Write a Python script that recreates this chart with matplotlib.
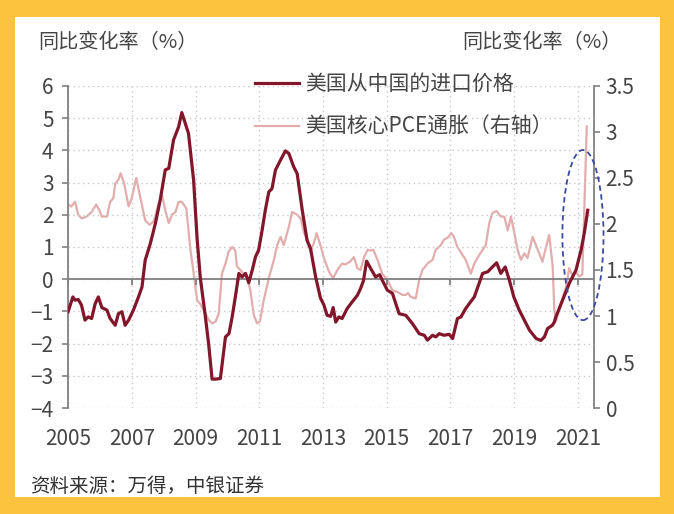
"""US import prices from China vs US core PCE inflation, yoy %."""
import matplotlib.pyplot as plt
from matplotlib.patches import Rectangle, Ellipse
from matplotlib.ticker import FuncFormatter

plt.rcParams['font.family'] = ['Noto Sans CJK SC', 'DejaVu Sans']
plt.rcParams['font.weight'] = 'light'

# 美国从中国的进口价格 (left axis), readings in decimal years
IMP_T = [2005.00, 2005.15, 2005.22, 2005.32, 2005.42, 2005.53, 2005.63, 2005.74, 2005.85, 2005.95,
         2006.06, 2006.22, 2006.32, 2006.48, 2006.58, 2006.69, 2006.79, 2006.90, 2007.05, 2007.21,
         2007.32, 2007.42, 2007.58, 2007.74, 2007.89, 2008.05, 2008.16, 2008.31, 2008.47, 2008.57,
         2008.78, 2008.94, 2009.05, 2009.15, 2009.31, 2009.41, 2009.52, 2009.63, 2009.78, 2009.94,
         2010.05, 2010.15, 2010.25, 2010.36, 2010.46, 2010.57, 2010.67, 2010.78, 2010.88, 2010.98,
         2011.09, 2011.19, 2011.30, 2011.40, 2011.51, 2011.67, 2011.82, 2011.93, 2012.08, 2012.19,
         2012.35, 2012.50, 2012.61, 2012.77, 2012.92, 2013.03, 2013.13, 2013.24, 2013.32, 2013.40,
         2013.50, 2013.60, 2013.76, 2013.92, 2014.08, 2014.18, 2014.27, 2014.37, 2014.50, 2014.65,
         2014.78, 2014.86, 2015.02, 2015.18, 2015.39, 2015.60, 2015.81, 2016.02, 2016.18, 2016.28,
         2016.44, 2016.54, 2016.65, 2016.80, 2016.96, 2017.07, 2017.22, 2017.33, 2017.48, 2017.59,
         2017.75, 2017.90, 2018.01, 2018.17, 2018.32, 2018.45, 2018.58, 2018.72, 2018.85, 2018.99,
         2019.16, 2019.32, 2019.48, 2019.69, 2019.84, 2019.95, 2020.05, 2020.20, 2020.26, 2020.31,
         2020.52, 2020.73, 2020.94, 2021.10, 2021.20, 2021.31]
IMP_V = [-1.01, -0.55, -0.65, -0.63, -0.80, -1.27, -1.17, -1.22, -0.76, -0.55,
         -0.88, -0.96, -1.22, -1.43, -1.07, -1.01, -1.43, -1.27, -0.96, -0.55,
         -0.24, 0.59, 1.10, 1.73, 2.45, 3.39, 3.44, 4.32, 4.73, 5.17,
         4.52, 3.07, 1.25, 0.05, -1.17, -2.00, -3.10, -3.10, -3.08, -1.79,
         -1.69, -1.17, -0.55, 0.18, 0.07, 0.18, -0.11, 0.28, 0.69, 0.90,
         1.52, 2.14, 2.71, 2.81, 3.39, 3.70, 3.98, 3.90, 3.49, 3.28,
         2.14, 1.21, 0.95, 0.07, -0.58, -0.80, -1.12, -1.15, -0.88, -1.33,
         -1.17, -1.22, -0.91, -0.70, -0.50, -0.29, -0.05, 0.56, 0.33, 0.07,
         0.14, -0.03, -0.34, -0.44, -1.07, -1.12, -1.38, -1.69, -1.74, -1.89,
         -1.74, -1.79, -1.69, -1.74, -1.71, -1.84, -1.22, -1.17, -0.91, -0.76,
         -0.55, -0.13, 0.18, 0.23, 0.38, 0.51, 0.18, 0.38, -0.03, -0.55,
         -0.96, -1.27, -1.58, -1.84, -1.90, -1.79, -1.53, -1.43, -1.33, -1.17,
         -0.65, -0.13, 0.28, 0.90, 1.42, 2.14]

# 美国核心PCE通胀 (right axis)
PCE_T = [2005.00, 2005.10, 2005.22, 2005.32, 2005.43, 2005.58, 2005.74, 2005.88, 2005.98, 2006.06,
         2006.22, 2006.32, 2006.42, 2006.48, 2006.58, 2006.65, 2006.76, 2006.90, 2007.00, 2007.14,
         2007.26, 2007.42, 2007.56, 2007.69, 2007.84, 2007.95, 2008.05, 2008.16, 2008.26, 2008.37,
         2008.47, 2008.57, 2008.71, 2008.84, 2008.94, 2009.05, 2009.15, 2009.31, 2009.41, 2009.52,
         2009.63, 2009.73, 2009.83, 2009.94, 2010.04, 2010.15, 2010.25, 2010.30, 2010.46, 2010.62,
         2010.72, 2010.83, 2010.93, 2011.02, 2011.14, 2011.30, 2011.46, 2011.56, 2011.67, 2011.77,
         2011.93, 2012.03, 2012.19, 2012.30, 2012.40, 2012.50, 2012.61, 2012.71, 2012.80, 2012.92,
         2013.03, 2013.19, 2013.32, 2013.45, 2013.60, 2013.70, 2013.85, 2013.97, 2014.08, 2014.18,
         2014.29, 2014.40, 2014.50, 2014.58, 2014.71, 2014.86, 2015.02, 2015.18, 2015.34, 2015.49,
         2015.60, 2015.67, 2015.75, 2015.91, 2016.02, 2016.12, 2016.28, 2016.44, 2016.54, 2016.70,
         2016.80, 2016.91, 2017.03, 2017.11, 2017.22, 2017.33, 2017.48, 2017.64, 2017.75, 2017.90,
         2018.11, 2018.22, 2018.32, 2018.45, 2018.58, 2018.69, 2018.80, 2018.90, 2018.99, 2019.11,
         2019.21, 2019.32, 2019.42, 2019.58, 2019.74, 2019.89, 2020.00, 2020.10, 2020.21, 2020.26,
         2020.31, 2020.47, 2020.63, 2020.73, 2020.84, 2020.94, 2021.04, 2021.14, 2021.20, 2021.28]
PCE_V = [2.21, 2.19, 2.24, 2.10, 2.06, 2.08, 2.13, 2.21, 2.15, 2.08,
         2.08, 2.24, 2.28, 2.44, 2.48, 2.55, 2.44, 2.19, 2.28, 2.50,
         2.30, 2.04, 1.99, 2.03, 2.22, 2.31, 2.15, 2.01, 2.10, 2.13,
         2.24, 2.24, 2.17, 1.72, 1.47, 1.17, 1.13, 1.03, 0.96, 0.92,
         0.94, 1.03, 1.46, 1.57, 1.70, 1.75, 1.71, 1.54, 1.48, 1.43,
         1.28, 1.01, 0.92, 0.94, 1.17, 1.41, 1.61, 1.77, 1.86, 1.77,
         1.97, 2.13, 2.10, 2.06, 1.91, 1.83, 1.70, 1.79, 1.90, 1.77,
         1.63, 1.48, 1.41, 1.50, 1.57, 1.56, 1.59, 1.64, 1.52, 1.50,
         1.64, 1.72, 1.71, 1.72, 1.61, 1.46, 1.39, 1.28, 1.26, 1.23,
         1.23, 1.25, 1.21, 1.19, 1.39, 1.50, 1.57, 1.61, 1.72, 1.77,
         1.83, 1.85, 1.90, 1.86, 1.75, 1.69, 1.61, 1.46, 1.57, 1.66,
         1.77, 2.01, 2.12, 2.14, 2.08, 2.08, 1.93, 2.08, 1.93, 1.72,
         1.61, 1.68, 1.63, 1.86, 1.72, 1.59, 1.75, 1.88, 1.54, 1.07,
         0.94, 1.14, 1.32, 1.52, 1.43, 1.48, 1.43, 1.45, 2.15, 3.06]

YEAR_TICKS = [2005, 2007, 2009, 2011, 2013, 2015, 2017, 2019, 2021]
LEFT_TICKS = [-4, -3, -2, -1, 0, 1, 2, 3, 4, 5, 6]
RIGHT_TICKS = [0, 0.5, 1, 1.5, 2, 2.5, 3, 3.5]

DARK = "#82162B"
PINK = "#E4ADAD"
TXT = "#454545"
AXC = "#808080"

fig = plt.figure(figsize=(6.74, 5.14), dpi=100, facecolor="#FCC33E")
fig.patches.append(Rectangle((0.022, 0.033), 0.957, 0.934, transform=fig.transFigure,
                             facecolor="white", edgecolor="none", zorder=-10))

ax = fig.add_axes([0.101, 0.206, 0.780, 0.627])
ax2 = ax.twinx()
ax.set_zorder(ax2.get_zorder() + 1)
ax.patch.set_visible(False)
ax2.patch.set_visible(False)

l2, = ax2.plot(PCE_T, PCE_V, color=PINK, lw=1.6)
l1, = ax.plot(IMP_T, IMP_V, color=DARK, lw=2.3, zorder=3)

ax.set_xlim(2005, 2021.5)
ax.set_ylim(-4, 6)
ax2.set_ylim(0, 3.5)
ax.set_xticks(YEAR_TICKS)
ax.set_yticks(LEFT_TICKS)
ax2.set_yticks(RIGHT_TICKS)
ax2.yaxis.set_major_formatter(FuncFormatter(lambda v, p: f"{v:g}"))

ax.grid(True, ls=(0, (1, 2.5)), color="#C8C8C8", lw=1.0)
ax.set_axisbelow(True)

# zero line with year ticks hanging below it
ax.axhline(0, color=AXC, lw=1.3, zorder=2)
ax.vlines(YEAR_TICKS, -0.17, 0, color=AXC, lw=1.3, zorder=2)

for s in ["top", "bottom", "right"]:
    ax.spines[s].set_visible(False)
for s in ["top", "bottom", "left"]:
    ax2.spines[s].set_visible(False)
ax.spines["left"].set_color(AXC)
ax.spines["left"].set_linewidth(1.3)
ax2.spines["right"].set_color(AXC)
ax2.spines["right"].set_linewidth(1.3)

ax.tick_params(axis="x", length=0, pad=14, labelsize=15, labelcolor=TXT)
ax.tick_params(axis="y", length=4.5, width=1.2, color=AXC, pad=6, labelsize=15, labelcolor=TXT)
ax2.tick_params(axis="y", length=4.5, width=1.2, color=AXC, pad=4, labelsize=15, labelcolor=TXT)

ax.legend([l1, l2], ["美国从中国的进口价格", "美国核心PCE通胀（右轴）"],
          loc="upper left", bbox_to_anchor=(0.378, 0.858), bbox_transform=fig.transFigure,
          frameon=False, fontsize=15, labelcolor=TXT, handlelength=2.1, handletextpad=0.3,
          labelspacing=1.0, borderpad=0, borderaxespad=0)

ax.add_patch(Ellipse((2021.16, 1.37), width=1.29, height=5.28, fill=False,
                     edgecolor="#3A4A9E", ls=(0, (3, 2)), lw=1.3, clip_on=False, zorder=5))

fig.text(38 / 674, 1 - 42 / 514, "同比变化率（%）", ha="left", va="center", fontsize=14.5, color=TXT)
fig.text(622 / 674, 1 - 42 / 514, "同比变化率（%）", ha="right", va="center", fontsize=14.5, color=TXT)
fig.text(30 / 674, 1 - 487 / 514, "资料来源：万得，中银证券", ha="left", va="center",
         fontsize=14, color="#333333")

plt.savefig("out.png", dpi=100, facecolor=fig.get_facecolor())
